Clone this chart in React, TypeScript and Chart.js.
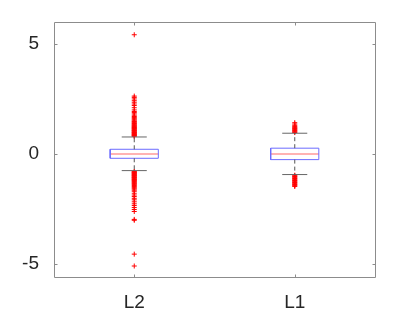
import React, { useEffect, useRef } from "react";
import { Chart, registerables } from "chart.js";

Chart.register(...registerables);

const CATEGORIES = ["L2", "L1"];
const Q1 = [-0.2, -0.26];
const MEDIAN = [0, 0];
const Q3 = [0.21, 0.26];
const WHISKER_LOW = [-0.76, -0.94];
const WHISKER_HIGH = [0.77, 0.94];
const OUTLIERS_L2 = [
  0.8, 0.82, 0.84, 0.86, 0.88, 0.9, 0.93, 0.95, 0.97, 0.99, 1.01, 1.04, 1.06, 1.08, 1.1, 1.13,
  1.15, 1.17, 1.2, 1.22, 1.24, 1.27, 1.3, 1.32, 1.35, 1.38, 1.41, 1.44, 1.47, 1.5, 1.54, 1.58,
  1.62, 1.66, 1.7, 1.76, 1.82, 1.88, 1.93, 2.0, 2.1, 2.2, 2.27, 2.35, 2.42, 2.5, 2.57, 2.63, 5.42,
  -0.8, -0.82, -0.84, -0.86, -0.88, -0.9, -0.93, -0.95, -0.97, -0.99, -1.01, -1.04, -1.06, -1.08,
  -1.1, -1.13, -1.15, -1.17, -1.2, -1.22, -1.25, -1.28, -1.31, -1.34, -1.37, -1.4, -1.44, -1.48,
  -1.52, -1.56, -1.6, -1.65, -1.7, -1.79, -1.87, -1.94, -2.02, -2.09, -2.18, -2.27, -2.35, -2.44,
  -2.53, -2.62, -2.98, -3.02, -4.56, -5.1,
];
const OUTLIERS_L1 = [
  0.97, 1.0, 1.03, 1.06, 1.09, 1.12, 1.15, 1.18, 1.21, 1.25, 1.3, 1.36, 1.42,
  -0.97, -1.0, -1.03, -1.06, -1.09, -1.12, -1.15, -1.18, -1.21, -1.24, -1.27, -1.3, -1.33, -1.36,
  -1.39, -1.42, -1.45, -1.48,
];
const OUTLIERS = [OUTLIERS_L2, OUTLIERS_L1];
const Y_TICKS = [-5, 0, 5];
const Y_MIN = -5.6;
const Y_MAX = 6;

const BOX_HALF = 0.15;
const CAP_HALF = 0.078;
const AXIS_COLOR = "#8c8c8c";
const FONT = "'Liberation Sans', Arial, sans-serif";

const framePlugin = {
  id: "frame",
  afterDraw(chart: any) {
    const { ctx, chartArea } = chart;
    const { left, right, top, bottom } = chartArea;
    const xs = chart.scales.x;
    const ys = chart.scales.y;
    ctx.save();
    ctx.strokeStyle = AXIS_COLOR;
    ctx.lineWidth = 1;
    ctx.beginPath();
    const L = Math.round(left) + 0.5;
    const R = Math.round(right) + 0.5;
    const T = Math.round(top) + 0.5;
    const B = Math.round(bottom) + 0.5;
    ctx.rect(L, T, R - L, B - T);
    const tl = 3;
    Y_TICKS.forEach((v) => {
      const y = Math.round(ys.getPixelForValue(v)) + 0.5;
      ctx.moveTo(L, y);
      ctx.lineTo(L + tl, y);
      ctx.moveTo(R, y);
      ctx.lineTo(R - tl, y);
    });
    CATEGORIES.forEach((_, i) => {
      const x = Math.round(xs.getPixelForValue(i + 1)) + 0.5;
      ctx.moveTo(x, B);
      ctx.lineTo(x, B - tl);
      ctx.moveTo(x, T);
      ctx.lineTo(x, T + tl);
    });
    ctx.stroke();
    ctx.restore();
  },
};

function buildDatasets() {
  const ds: any[] = [];
  const line = (data: any[], color: string, dash: number[] = [], width = 1) => ({
    data,
    showLine: true,
    borderColor: color,
    borderWidth: width,
    borderDash: dash,
    pointRadius: 0,
    fill: false,
  });
  CATEGORIES.forEach((_, i) => {
    const c = i + 1;
    ds.push(line([{ x: c, y: Q3[i] }, { x: c, y: WHISKER_HIGH[i] }], "#555555", [4, 3]));
    ds.push(line([{ x: c, y: Q1[i] }, { x: c, y: WHISKER_LOW[i] }], "#555555", [4, 3]));
    ds.push(line([{ x: c - CAP_HALF, y: WHISKER_HIGH[i] }, { x: c + CAP_HALF, y: WHISKER_HIGH[i] }], "#666666"));
    ds.push(line([{ x: c - CAP_HALF, y: WHISKER_LOW[i] }, { x: c + CAP_HALF, y: WHISKER_LOW[i] }], "#666666"));
    ds.push(
      line(
        [
          { x: c - BOX_HALF, y: Q1[i] },
          { x: c + BOX_HALF, y: Q1[i] },
          { x: c + BOX_HALF, y: Q3[i] },
          { x: c - BOX_HALF, y: Q3[i] },
          { x: c - BOX_HALF, y: Q1[i] },
        ],
        "#6b6bff"
      )
    );
    ds.push(line([{ x: c - BOX_HALF, y: MEDIAN[i] }, { x: c + BOX_HALF, y: MEDIAN[i] }], "#ff9a9a", [], 1.5));
    ds.push({
      data: OUTLIERS[i].map((v) => ({ x: c, y: v })),
      showLine: false,
      pointStyle: "cross",
      pointRadius: 2.5,
      borderColor: "#ff0000",
      borderWidth: 1,
      backgroundColor: "#ff0000",
    });
  });
  return ds;
}

export default function App() {
  const ref = useRef<HTMLCanvasElement>(null);
  useEffect(() => {
    document.body.style.margin = "0";
    const chart = new Chart(ref.current!, {
      type: "scatter",
      data: { datasets: buildDatasets() },
      options: {
        animation: false,
        responsive: false,
        events: [],
        layout: { padding: { left: 0, top: 22, right: 40, bottom: 0 } },
        plugins: { legend: { display: false }, tooltip: { enabled: false } },
        scales: {
          x: {
            type: "linear",
            min: 0.5,
            max: 2.5,
            afterBuildTicks: (s: any) => {
              s.ticks = CATEGORIES.map((_, i) => ({ value: i + 1 }));
            },
            afterFit: (s: any) => {
              s.height = 35;
            },
            grid: { display: false },
            border: { display: false },
            ticks: {
              callback: (v: any) => CATEGORIES[Number(v) - 1] ?? "",
              color: "#262626",
              font: { family: FONT, size: 19 },
              padding: 6,
              maxRotation: 0,
            },
          },
          y: {
            type: "linear",
            min: Y_MIN,
            max: Y_MAX,
            afterBuildTicks: (s: any) => {
              s.ticks = Y_TICKS.map((v) => ({ value: v }));
            },
            afterFit: (s: any) => {
              s.width = 54;
            },
            grid: { display: false },
            border: { display: false },
            ticks: {
              color: "#262626",
              font: { family: FONT, size: 19 },
              padding: 7,
            },
          },
        },
      },
      plugins: [framePlugin],
    });
    return () => chart.destroy();
  }, []);
  return (
    <div style={{ width: 415, height: 312 }}>
      <canvas ref={ref} width={415} height={312} />
    </div>
  );
}
